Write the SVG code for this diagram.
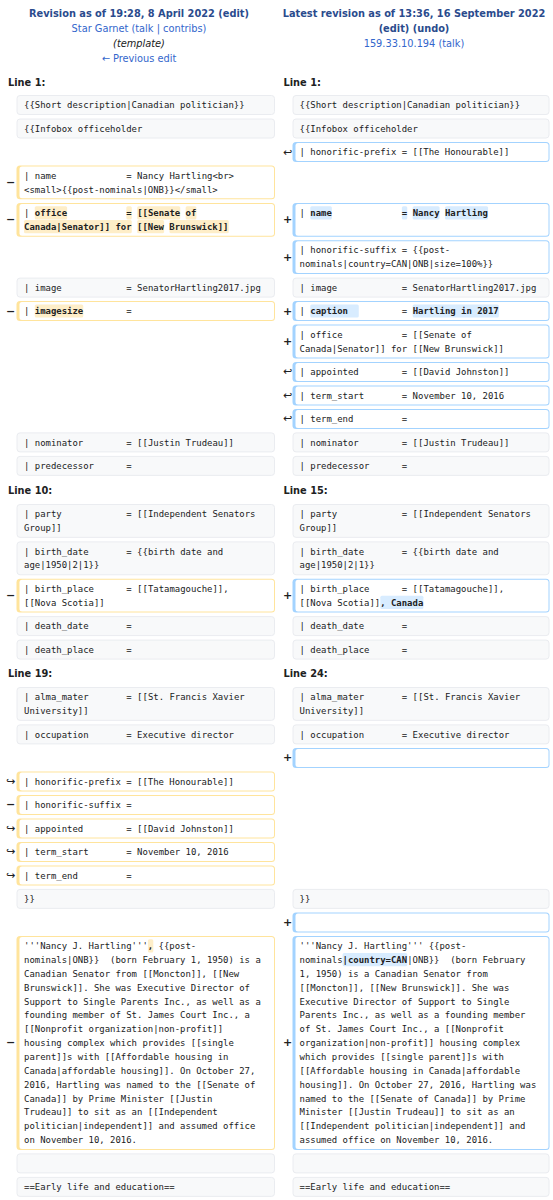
<svg xmlns="http://www.w3.org/2000/svg" width="553" height="1200" viewBox="0 0 553 1200" xml:space="preserve">
<style>
.h{font-family:"DejaVu Sans","Noto Sans",sans-serif;font-size:9.8px;text-anchor:middle}
.hb{font-weight:bold;fill:#2a4b8d}
.lk{fill:#3366cc}
.ln{font-family:"DejaVu Sans","Noto Sans",sans-serif;font-size:9.8px;font-weight:bold;fill:#202122}
.m{font-family:"DejaVu Sans Mono","Liberation Mono",monospace;font-size:8.95px;fill:#202122;white-space:pre}
.b{font-weight:bold}
.c{fill:#f8f9fa;stroke:#eaecf0;stroke-width:1}
.do{fill:#ffe49c}
.ao{fill:#a3d3ff}
.w{fill:#ffffff}
.hd{fill:#feeec8}
.ha{fill:#d8ecff}
.mk{font-family:"DejaVu Sans",sans-serif;font-size:11px;font-weight:bold;fill:#202122;text-anchor:middle}
.mv{font-family:"DejaVu Sans",sans-serif;font-size:11px;fill:#202122;text-anchor:middle}
</style>
<rect x="0" y="0" width="553" height="1200" fill="#ffffff"/>
<g id="header-old">
<text class="h hb" x="139" y="17">Revision as of 19:28, 8 April 2022 (edit)</text>
<text class="h lk" x="139" y="32">Star Garnet (talk | contribs)</text>
<text class="h" x="139" y="47" font-style="italic" fill="#202122">(template)</text>
<text class="h lk" x="139" y="62">← Previous edit</text>
</g>
<g id="header-new">
<text class="h hb" x="414" y="17">Latest revision as of 13:36, 16 September 2022</text>
<text class="h hb" x="414" y="32">(edit) (undo)</text>
<text class="h lk" x="414" y="47">159.33.10.194 (talk)</text>
</g>
<g id="line-headers">
<text class="ln" x="8" y="86">Line 1:</text>
<text class="ln" x="283.5" y="86">Line 1:</text>
<text class="ln" x="8" y="494">Line 10:</text>
<text class="ln" x="283.5" y="494">Line 15:</text>
<text class="ln" x="8" y="677">Line 19:</text>
<text class="ln" x="283.5" y="677">Line 24:</text>
</g>
<g id="r1">
<rect class="c" x="17" y="95.5" width="257.5" height="19" rx="3"/>
<rect class="c" x="293" y="95.5" width="256" height="19" rx="3"/>
<text class="m" x="24" y="108.2">{{Short description|Canadian politician}}</text>
<text class="m" x="299.5" y="108.2">{{Short description|Canadian politician}}</text>
</g>
<g id="r2">
<rect class="c" x="17" y="119" width="257.5" height="19" rx="3"/>
<rect class="c" x="293" y="119" width="256" height="19" rx="3"/>
<text class="m" x="24" y="131.7">{{Infobox officeholder</text>
<text class="m" x="299.5" y="131.7">{{Infobox officeholder</text>
</g>
<g id="r3">
<rect class="ao" x="292.5" y="142" width="257" height="20" rx="3.5"/><rect class="w" x="295.5" y="143" width="253" height="18" rx="2.5"/>
<text class="mv" x="287.5" y="155.5">↩</text>
<text class="m" x="299.5" y="155.2">| honorific-prefix = [[The Honourable]]</text>
</g>
<g id="r4">
<rect class="do" x="16.5" y="165.5" width="258.5" height="33.86" rx="3.5"/><rect class="w" x="19.5" y="166.5" width="254.5" height="31.86" rx="2.5"/>
<text class="mk" x="10.5" y="185.9">−</text>
<text class="m" x="24" y="178.7">| name<tspan x="126.37">= Nancy Hartling&lt;br&gt;</tspan></text>
<text class="m" x="24" y="192.56">&lt;small&gt;{{post-nominals|ONB}}&lt;/small&gt;</text>
</g>
<g id="r5">
<rect class="do" x="16.5" y="202.9" width="258.5" height="33.86" rx="3.5"/><rect class="w" x="19.5" y="203.9" width="254.5" height="31.86" rx="2.5"/>
<rect class="hd" x="34.78" y="206.2" width="32.33" height="13.2" rx="1.5"/>
<rect class="hd" x="126.37" y="206.2" width="5.39" height="13.2" rx="1.5"/>
<rect class="hd" x="137.15" y="206.2" width="43.1" height="13.2" rx="1.5"/>
<rect class="hd" x="185.64" y="206.2" width="10.78" height="13.2" rx="1.5"/>
<rect class="hd" x="24" y="220.06" width="107.76" height="13.2" rx="1.5"/>
<rect class="hd" x="137.15" y="220.06" width="26.94" height="13.2" rx="1.5"/>
<rect class="hd" x="169.48" y="220.06" width="59.27" height="13.2" rx="1.5"/>
<text class="mk" x="10.5" y="223.3">−</text>
<text class="m" x="24" y="216.1">| <tspan class="b">office</tspan><tspan x="126.37" class="b">=</tspan><tspan x="137.15" class="b">[[Senate</tspan> <tspan class="b">of</tspan></text>
<text class="m" x="24" y="229.96"><tspan class="b">Canada|Senator]] for</tspan> <tspan class="b">[[New</tspan> <tspan class="b">Brunswick]]</tspan></text>
<rect class="ao" x="292.5" y="202.9" width="257" height="33.86" rx="3.5"/><rect class="w" x="295.5" y="203.9" width="253" height="31.86" rx="2.5"/>
<rect class="ha" x="310.28" y="206.2" width="21.55" height="13.2" rx="1.5"/>
<rect class="ha" x="401.87" y="206.2" width="5.39" height="13.2" rx="1.5"/>
<rect class="ha" x="412.65" y="206.2" width="26.94" height="13.2" rx="1.5"/>
<rect class="ha" x="444.98" y="206.2" width="43.1" height="13.2" rx="1.5"/>
<text class="mk" x="287.5" y="223.3">+</text>
<text class="m" x="299.5" y="216.1">| <tspan class="b">name</tspan><tspan x="401.87" class="b">=</tspan> <tspan class="b">Nancy</tspan> <tspan class="b">Hartling</tspan></text>
</g>
<g id="r6">
<rect class="ao" x="292.5" y="240.2" width="257" height="33.86" rx="3.5"/><rect class="w" x="295.5" y="241.2" width="253" height="31.86" rx="2.5"/>
<text class="mk" x="287.5" y="260.6">+</text>
<text class="m" x="299.5" y="253.4">| honorific-suffix = {{post-</text>
<text class="m" x="299.5" y="267.26">nominals|country=CAN|ONB|size=100%}}</text>
</g>
<g id="r7">
<rect class="c" x="17" y="278.1" width="257.5" height="19" rx="3"/>
<rect class="c" x="293" y="278.1" width="256" height="19" rx="3"/>
<text class="m" x="24" y="290.8">| image<tspan x="126.37">= SenatorHartling2017.jpg</tspan></text>
<text class="m" x="299.5" y="290.8">| image<tspan x="401.87">= SenatorHartling2017.jpg</tspan></text>
</g>
<g id="r8">
<rect class="do" x="16.5" y="301.1" width="258.5" height="20" rx="3.5"/><rect class="w" x="19.5" y="302.1" width="254.5" height="18" rx="2.5"/>
<rect class="hd" x="34.78" y="304.4" width="48.49" height="13.2" rx="1.5"/>
<text class="mk" x="10.5" y="314.6">−</text>
<text class="m" x="24" y="314.3">| <tspan class="b">imagesize</tspan><tspan x="126.37">=</tspan></text>
<rect class="ao" x="292.5" y="301.1" width="257" height="20" rx="3.5"/><rect class="w" x="295.5" y="302.1" width="253" height="18" rx="2.5"/>
<rect class="ha" x="310.28" y="304.4" width="48.49" height="13.2" rx="1.5"/>
<rect class="ha" x="412.65" y="304.4" width="86.21" height="13.2" rx="1.5"/>
<text class="mk" x="287.5" y="314.6">+</text>
<text class="m" x="299.5" y="314.3">| <tspan class="b">caption</tspan><tspan x="401.87">=</tspan><tspan x="412.65" class="b">Hartling in 2017</tspan></text>
</g>
<g id="r9">
<rect class="ao" x="292.5" y="324.6" width="257" height="33.86" rx="3.5"/><rect class="w" x="295.5" y="325.6" width="253" height="31.86" rx="2.5"/>
<text class="mk" x="287.5" y="345">+</text>
<text class="m" x="299.5" y="337.8">| office<tspan x="401.87">= [[Senate of</tspan></text>
<text class="m" x="299.5" y="351.66">Canada|Senator]] for [[New Brunswick]]</text>
</g>
<g id="r10">
<rect class="ao" x="292.5" y="361.9" width="257" height="20" rx="3.5"/><rect class="w" x="295.5" y="362.9" width="253" height="18" rx="2.5"/>
<text class="mv" x="287.5" y="375.4">↩</text>
<text class="m" x="299.5" y="375.1">| appointed<tspan x="401.87">= [[David Johnston]]</tspan></text>
</g>
<g id="r11">
<rect class="ao" x="292.5" y="385.4" width="257" height="20" rx="3.5"/><rect class="w" x="295.5" y="386.4" width="253" height="18" rx="2.5"/>
<text class="mv" x="287.5" y="398.9">↩</text>
<text class="m" x="299.5" y="398.6">| term_start<tspan x="401.87">= November 10, 2016</tspan></text>
</g>
<g id="r12">
<rect class="ao" x="292.5" y="408.9" width="257" height="20" rx="3.5"/><rect class="w" x="295.5" y="409.9" width="253" height="18" rx="2.5"/>
<text class="mv" x="287.5" y="422.4">↩</text>
<text class="m" x="299.5" y="422.1">| term_end<tspan x="401.87">=</tspan></text>
</g>
<g id="r13">
<rect class="c" x="17" y="432.9" width="257.5" height="19" rx="3"/>
<rect class="c" x="293" y="432.9" width="256" height="19" rx="3"/>
<text class="m" x="24" y="445.6">| nominator<tspan x="126.37">= [[Justin Trudeau]]</tspan></text>
<text class="m" x="299.5" y="445.6">| nominator<tspan x="401.87">= [[Justin Trudeau]]</tspan></text>
</g>
<g id="r14">
<rect class="c" x="17" y="456.4" width="257.5" height="19" rx="3"/>
<rect class="c" x="293" y="456.4" width="256" height="19" rx="3"/>
<text class="m" x="24" y="469.1">| predecessor<tspan x="126.37">=</tspan></text>
<text class="m" x="299.5" y="469.1">| predecessor<tspan x="401.87">=</tspan></text>
</g>
<g id="r15">
<rect class="c" x="17" y="504.5" width="257.5" height="32.86" rx="3"/>
<rect class="c" x="293" y="504.5" width="256" height="32.86" rx="3"/>
<text class="m" x="24" y="517.2">| party<tspan x="126.37">= [[Independent Senators</tspan></text>
<text class="m" x="24" y="531.06">Group]]</text>
<text class="m" x="299.5" y="517.2">| party<tspan x="401.87">= [[Independent Senators</tspan></text>
<text class="m" x="299.5" y="531.06">Group]]</text>
</g>
<g id="r16">
<rect class="c" x="17" y="541.9" width="257.5" height="32.86" rx="3"/>
<rect class="c" x="293" y="541.9" width="256" height="32.86" rx="3"/>
<text class="m" x="24" y="554.6">| birth_date<tspan x="126.37">= {{birth date and</tspan></text>
<text class="m" x="24" y="568.46">age|1950|2|1}}</text>
<text class="m" x="299.5" y="554.6">| birth_date<tspan x="401.87">= {{birth date and</tspan></text>
<text class="m" x="299.5" y="568.46">age|1950|2|1}}</text>
</g>
<g id="r17">
<rect class="do" x="16.5" y="578.7" width="258.5" height="33.86" rx="3.5"/><rect class="w" x="19.5" y="579.7" width="254.5" height="31.86" rx="2.5"/>
<text class="mk" x="10.5" y="599.1">−</text>
<text class="m" x="24" y="591.9">| birth_place<tspan x="126.37">= [[Tatamagouche]],</tspan></text>
<text class="m" x="24" y="605.76">[[Nova Scotia]]</text>
<rect class="ao" x="292.5" y="578.7" width="257" height="33.86" rx="3.5"/><rect class="w" x="295.5" y="579.7" width="253" height="31.86" rx="2.5"/>
<rect class="ha" x="380.32" y="595.86" width="43.1" height="13.2" rx="1.5"/>
<text class="mk" x="287.5" y="599.1">+</text>
<text class="m" x="299.5" y="591.9">| birth_place<tspan x="401.87">= [[Tatamagouche]],</tspan></text>
<text class="m" x="299.5" y="605.76">[[Nova Scotia]]<tspan class="b">, Canada</tspan></text>
</g>
<g id="r18">
<rect class="c" x="17" y="616.6" width="257.5" height="19" rx="3"/>
<rect class="c" x="293" y="616.6" width="256" height="19" rx="3"/>
<text class="m" x="24" y="629.3">| death_date<tspan x="126.37">=</tspan></text>
<text class="m" x="299.5" y="629.3">| death_date<tspan x="401.87">=</tspan></text>
</g>
<g id="r19">
<rect class="c" x="17" y="640.1" width="257.5" height="19" rx="3"/>
<rect class="c" x="293" y="640.1" width="256" height="19" rx="3"/>
<text class="m" x="24" y="652.8">| death_place<tspan x="126.37">=</tspan></text>
<text class="m" x="299.5" y="652.8">| death_place<tspan x="401.87">=</tspan></text>
</g>
<g id="r20">
<rect class="c" x="17" y="687.5" width="257.5" height="32.86" rx="3"/>
<rect class="c" x="293" y="687.5" width="256" height="32.86" rx="3"/>
<text class="m" x="24" y="700.2">| alma_mater<tspan x="126.37">= [[St. Francis Xavier</tspan></text>
<text class="m" x="24" y="714.06">University]]</text>
<text class="m" x="299.5" y="700.2">| alma_mater<tspan x="401.87">= [[St. Francis Xavier</tspan></text>
<text class="m" x="299.5" y="714.06">University]]</text>
</g>
<g id="r21">
<rect class="c" x="17" y="724.9" width="257.5" height="19" rx="3"/>
<rect class="c" x="293" y="724.9" width="256" height="19" rx="3"/>
<text class="m" x="24" y="737.6">| occupation<tspan x="126.37">= Executive director</tspan></text>
<text class="m" x="299.5" y="737.6">| occupation<tspan x="401.87">= Executive director</tspan></text>
</g>
<g id="r22">
<rect class="ao" x="292.5" y="747.9" width="257" height="20" rx="3.5"/><rect class="w" x="295.5" y="748.9" width="253" height="18" rx="2.5"/>
<text class="mk" x="287.5" y="761.4">+</text>
</g>
<g id="r23">
<rect class="do" x="16.5" y="771.4" width="258.5" height="20" rx="3.5"/><rect class="w" x="19.5" y="772.4" width="254.5" height="18" rx="2.5"/>
<text class="mv" x="10.5" y="784.9">↪</text>
<text class="m" x="24" y="784.6">| honorific-prefix = [[The Honourable]]</text>
</g>
<g id="r24">
<rect class="do" x="16.5" y="794.9" width="258.5" height="20" rx="3.5"/><rect class="w" x="19.5" y="795.9" width="254.5" height="18" rx="2.5"/>
<text class="mk" x="10.5" y="808.4">−</text>
<text class="m" x="24" y="808.1">| honorific-suffix =</text>
</g>
<g id="r25">
<rect class="do" x="16.5" y="818.4" width="258.5" height="20" rx="3.5"/><rect class="w" x="19.5" y="819.4" width="254.5" height="18" rx="2.5"/>
<text class="mv" x="10.5" y="831.9">↪</text>
<text class="m" x="24" y="831.6">| appointed<tspan x="126.37">= [[David Johnston]]</tspan></text>
</g>
<g id="r26">
<rect class="do" x="16.5" y="841.9" width="258.5" height="20" rx="3.5"/><rect class="w" x="19.5" y="842.9" width="254.5" height="18" rx="2.5"/>
<text class="mv" x="10.5" y="855.4">↪</text>
<text class="m" x="24" y="855.1">| term_start<tspan x="126.37">= November 10, 2016</tspan></text>
</g>
<g id="r27">
<rect class="do" x="16.5" y="865.4" width="258.5" height="20" rx="3.5"/><rect class="w" x="19.5" y="866.4" width="254.5" height="18" rx="2.5"/>
<text class="mv" x="10.5" y="878.9">↪</text>
<text class="m" x="24" y="878.6">| term_end<tspan x="126.37">=</tspan></text>
</g>
<g id="r28">
<rect class="c" x="17" y="889.4" width="257.5" height="19" rx="3"/>
<rect class="c" x="293" y="889.4" width="256" height="19" rx="3"/>
<text class="m" x="24" y="902.1">}}</text>
<text class="m" x="299.5" y="902.1">}}</text>
</g>
<g id="r29">
<rect class="ao" x="292.5" y="912.4" width="257" height="20" rx="3.5"/><rect class="w" x="295.5" y="913.4" width="253" height="18" rx="2.5"/>
<text class="mk" x="287.5" y="925.9">+</text>
</g>
<g id="r30-old">
<rect class="do" x="16.5" y="935.9" width="258.5" height="214" rx="3.5"/><rect class="w" x="19.5" y="936.9" width="254.5" height="212" rx="2.5"/>
<rect class="hd" x="147.92" y="939.2" width="5.39" height="13.2" rx="1.5"/>
<text class="mk" x="10.5" y="1046.4">−</text>
<text class="m" x="24" y="949.1">'''Nancy J. Hartling'''<tspan class="b">,</tspan> {{post-</text>
<text class="m" x="24" y="962.96">nominals|ONB}}  (born February 1, 1950) is a</text>
<text class="m" x="24" y="976.82">Canadian Senator from [[Moncton]], [[New</text>
<text class="m" x="24" y="990.68">Brunswick]]. She was Executive Director of</text>
<text class="m" x="24" y="1004.54">Support to Single Parents Inc., as well as a</text>
<text class="m" x="24" y="1018.4">founding member of St. James Court Inc., a</text>
<text class="m" x="24" y="1032.26">[[Nonprofit organization|non-profit]]</text>
<text class="m" x="24" y="1046.12">housing complex which provides [[single</text>
<text class="m" x="24" y="1059.98">parent]]s with [[Affordable housing in</text>
<text class="m" x="24" y="1073.84">Canada|affordable housing]]. On October 27,</text>
<text class="m" x="24" y="1087.7">2016, Hartling was named to the [[Senate of</text>
<text class="m" x="24" y="1101.56">Canada]] by Prime Minister [[Justin</text>
<text class="m" x="24" y="1115.42">Trudeau]] to sit as an [[Independent</text>
<text class="m" x="24" y="1129.28">politician|independent]] and assumed office</text>
<text class="m" x="24" y="1143.14">on November 10, 2016.</text>
</g>
<g id="r30-new">
<rect class="ao" x="292.5" y="935.9" width="257" height="214" rx="3.5"/><rect class="w" x="295.5" y="936.9" width="253" height="212" rx="2.5"/>
<rect class="ha" x="342.6" y="953.06" width="64.66" height="13.2" rx="1.5"/>
<text class="mk" x="287.5" y="1046.4">+</text>
<text class="m" x="299.5" y="949.1">'''Nancy J. Hartling''' {{post-</text>
<text class="m" x="299.5" y="962.96">nominals<tspan class="b">|country=CAN</tspan>|ONB}}  (born February</text>
<text class="m" x="299.5" y="976.82">1, 1950) is a Canadian Senator from</text>
<text class="m" x="299.5" y="990.68">[[Moncton]], [[New Brunswick]]. She was</text>
<text class="m" x="299.5" y="1004.54">Executive Director of Support to Single</text>
<text class="m" x="299.5" y="1018.4">Parents Inc., as well as a founding member</text>
<text class="m" x="299.5" y="1032.26">of St. James Court Inc., a [[Nonprofit</text>
<text class="m" x="299.5" y="1046.12">organization|non-profit]] housing complex</text>
<text class="m" x="299.5" y="1059.98">which provides [[single parent]]s with</text>
<text class="m" x="299.5" y="1073.84">[[Affordable housing in Canada|affordable</text>
<text class="m" x="299.5" y="1087.7">housing]]. On October 27, 2016, Hartling was</text>
<text class="m" x="299.5" y="1101.56">named to the [[Senate of Canada]] by Prime</text>
<text class="m" x="299.5" y="1115.42">Minister [[Justin Trudeau]] to sit as an</text>
<text class="m" x="299.5" y="1129.28">[[Independent politician|independent]] and</text>
<text class="m" x="299.5" y="1143.14">assumed office on November 10, 2016.</text>
</g>
<g id="r31">
<rect class="c" x="17" y="1153.9" width="257.5" height="19" rx="3"/>
<rect class="c" x="293" y="1153.9" width="256" height="19" rx="3"/>
</g>
<g id="r32">
<rect class="c" x="17" y="1177.4" width="257.5" height="19" rx="3"/>
<rect class="c" x="293" y="1177.4" width="256" height="19" rx="3"/>
<text class="m" x="24" y="1190.1">==Early life and education==</text>
<text class="m" x="299.5" y="1190.1">==Early life and education==</text>
</g>
</svg>
